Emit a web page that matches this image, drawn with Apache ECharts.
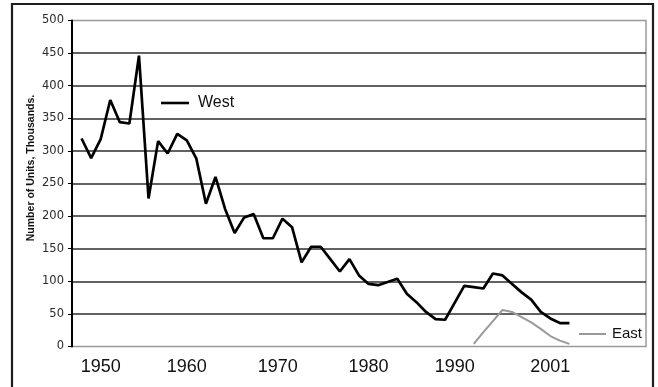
<!DOCTYPE html>
<html>
<head>
<meta charset="utf-8">
<script src="https://cdn.jsdelivr.net/npm/echarts@6/dist/echarts.min.js"></script>
<style>
  html, body { margin: 0; padding: 0; background: #fff; }
  #chart { width: 658px; height: 387px; }
</style>
</head>
<body>
<div id="chart"></div>
<script>
// Thousands of units per slot along the time axis
const westStart = 1;
const westValues = [
  319, 289, 318, 378, 344, 342, 446, 227, 315, 296,
  326, 316, 288, 219, 260, 211, 174, 198, 203, 166,
  166, 196, 183, 129, 153, 153, 134, 115, 134, 109,
  96, 94, 99, 104, 81, 68, 53, 42, 41, 67,
  93, 91, 89, 112, 109, 96, 83, 72, 53, 43,
  36, 36
];
const eastStart = 42;
const eastValues = [4, 22, 39, 56, 53, 45, 37, 27, 16, 9, 4];

// Year labels shown under the axis and the slots they sit on
const tickLabels = ['1950', '1960', '1970', '1980', '1990', '2001'];
const tickSlots = [3, 12, 21.5, 31, 40, 50];

const yTicks = { min: 0, max: 500, step: 50 };

const toPoints = (start, values) => values.map((v, i) => [start + i, v]);

const chart = echarts.init(document.getElementById('chart'), null, { renderer: 'canvas' });

chart.setOption({
  backgroundColor: '#ffffff',
  animation: false,
  grid: {
    left: 72, right: 12, top: 20.5, bottom: 40.5,
    show: true, borderColor: '#9a9a9a', borderWidth: 1.5
  },
  xAxis: {
    type: 'value',
    min: 0, max: 60, interval: 0.5,
    axisLine: { show: false },
    axisTick: { show: false },
    splitLine: { show: false },
    axisLabel: {
      margin: 12,
      color: '#111',
      fontFamily: 'Liberation Sans, Arial, sans-serif',
      fontSize: 18,
      showMinLabel: true, showMaxLabel: true,
      formatter: function (v) {
        for (let i = 0; i < tickSlots.length; i++) {
          if (Math.abs(tickSlots[i] - v) < 1e-6) return tickLabels[i];
        }
        return '';
      }
    }
  },
  yAxis: {
    type: 'value',
    min: yTicks.min, max: yTicks.max, interval: yTicks.step,
    axisLine: { show: true, lineStyle: { color: '#000', width: 2 } },
    axisTick: { show: true, length: 4, lineStyle: { color: '#000', width: 1 } },
    axisLabel: {
      margin: 8,
      color: '#2a2a2a',
      fontFamily: 'DejaVu Sans, Verdana, sans-serif',
      fontSize: 11.5
    },
    splitLine: {
      show: true,
      showMinLine: false,
      showMaxLine: false,
      lineStyle: { color: '#2e2e2e', width: 1.6 }
    }
  },
  legend: [
    {
      data: ['West'],
      left: 161, top: 95,
      padding: 0,
      icon: 'rect',
      itemWidth: 28, itemHeight: 2.6,
      textStyle: {
        color: '#111', fontSize: 16,
        fontFamily: 'Liberation Sans, Arial, sans-serif',
        padding: [0, 0, 0, 4]
      }
    },
    {
      data: ['East'],
      left: 579, top: 326.5,
      padding: 0,
      icon: 'rect',
      itemWidth: 27, itemHeight: 2,
      textStyle: {
        color: '#111', fontSize: 15,
        fontFamily: 'Liberation Sans, Arial, sans-serif',
        padding: [0, 0, 0, 1]
      }
    }
  ],
  series: [
    {
      name: 'West',
      type: 'line',
      data: toPoints(westStart, westValues),
      symbol: 'none',
      lineStyle: { color: '#000', width: 2.7 },
      itemStyle: { color: '#000' },
      z: 4
    },
    {
      name: 'East',
      type: 'line',
      data: toPoints(eastStart, eastValues),
      symbol: 'none',
      lineStyle: { color: '#9a9a9a', width: 2 },
      itemStyle: { color: '#9a9a9a' },
      z: 3
    }
  ],
  graphic: [
    {
      type: 'rect',
      silent: true,
      shape: { x: 12, y: 4, width: 641, height: 420 },
      style: { fill: 'none', stroke: '#1e1e1e', lineWidth: 2.2 }
    },
    {
      type: 'text',
      silent: true,
      x: 31.5, y: 168,
      rotation: Math.PI / 2,
      style: {
        text: 'Number of Units, Thousands.',
        fill: '#111',
        font: 'bold 10.5px "Liberation Sans", Arial, sans-serif',
        align: 'center',
        verticalAlign: 'middle'
      }
    }
  ]
});
</script>
</body>
</html>
